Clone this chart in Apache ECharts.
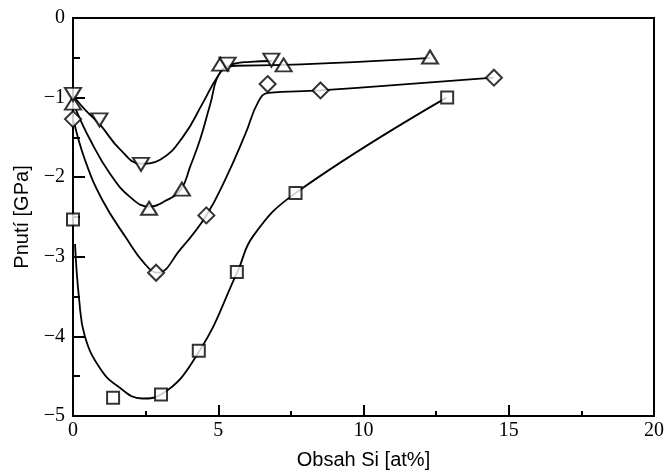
<!DOCTYPE html>
<html>
<head>
<meta charset="utf-8">
<script src="https://cdn.jsdelivr.net/npm/echarts@6/dist/echarts.min.js"></script>
<style>
  html, body { margin: 0; padding: 0; background: #fff; }
  #chart { width: 668px; height: 475px; }
</style>
</head>
<body>
<div id="chart"></div>
<script>
// measured points (x = obsah Si [at%], y = pnuti [GPa])
const squarePts = [[0, -2.53], [1.38, -4.77], [3.03, -4.73], [4.33, -4.18], [5.64, -3.19], [7.66, -2.2], [12.88, -1.0]];
const diamondPts = [[0, -1.27], [2.86, -3.2], [4.59, -2.48], [6.7, -0.83], [8.52, -0.91], [14.49, -0.75]];
const triUpPts = [[0, -1.07], [2.62, -2.39], [3.75, -2.15], [5.07, -0.58], [7.25, -0.59], [12.29, -0.49]];
const triDownPts = [[0, -0.96], [0.91, -1.28], [2.34, -1.84], [5.32, -0.58], [6.83, -0.53]];

// fitted curves
const squareCurve = [[0.07, -2.84], [0.21, -3.53], [0.41, -4.0], [0.93, -4.4], [1.52, -4.62], [2.38, -4.78], [3.03, -4.73], [4.34, -4.19], [5.66, -3.19], [6.2, -2.74], [7.66, -2.2], [12.86, -1.0]];
const diamondCurve = [[0.03, -1.3], [0.41, -1.78], [1.0, -2.28], [1.86, -2.78], [2.45, -3.08], [2.9, -3.2], [3.69, -2.91], [4.59, -2.48], [5.24, -2.03], [5.93, -1.46], [6.38, -1.05], [6.72, -0.94], [8.52, -0.91], [14.48, -0.75]];
const triUpCurve = [[0.1, -1.15], [0.59, -1.53], [1.28, -1.96], [1.97, -2.25], [2.62, -2.37], [3.17, -2.3], [3.72, -2.15], [4.03, -1.87], [4.38, -1.52], [4.72, -1.09], [5.07, -0.68], [5.59, -0.6], [7.28, -0.59], [12.31, -0.5]];
const triDownCurve = [[0.03, -0.99], [0.41, -1.15], [0.93, -1.34], [1.62, -1.65], [2.34, -1.83], [3.0, -1.78], [3.79, -1.49], [4.48, -1.06], [4.97, -0.74], [5.34, -0.6], [6.1, -0.55], [6.86, -0.54]];

const xTicks = [0, 5, 10, 15, 20];
const yTicks = [0, -1, -2, -3, -4, -5];

const chart = echarts.init(document.getElementById('chart'));

function curve(data) {
  return {
    type: 'line', data: data, smooth: 0.45, showSymbol: false, symbol: 'none',
    lineStyle: { color: '#000', width: 1.8 }, z: 2, silent: true
  };
}
function marks(data, symbol, size, rotate) {
  return {
    type: 'scatter', data: data, symbol: symbol, symbolSize: size, symbolRotate: rotate || 0,
    itemStyle: { color: '#fff', borderColor: '#000', borderWidth: 2 }, z: 5, silent: true
  };
}

const labelFont = { fontFamily: 'Liberation Serif', fontSize: 20, color: '#000' };
const nameFont = { fontFamily: 'Liberation Sans', fontSize: 20, color: '#000' };

const option = {
  backgroundColor: '#fff',
  animation: false,
  grid: {
    left: 73, right: 14, top: 18, bottom: 57,
    show: true, borderColor: '#000', borderWidth: 2
  },
  xAxis: {
    type: 'value', min: xTicks[0], max: xTicks[xTicks.length - 1], interval: 5,
    name: 'Obsah Si [at%]', nameLocation: 'middle', nameGap: 34,
    nameTextStyle: nameFont,
    axisLine: { onZero: false, lineStyle: { color: '#000', width: 2 } },
    axisTick: { inside: true, length: 11, lineStyle: { color: '#000', width: 2 } },
    minorTick: { show: true, splitNumber: 2, length: 5, lineStyle: { color: '#000', width: 2 } },
    splitLine: { show: false },
    axisLabel: Object.assign({ margin: 5, showMinLabel: true, showMaxLabel: true }, labelFont)
  },
  yAxis: {
    type: 'value', min: yTicks[yTicks.length - 1], max: yTicks[0], interval: 1,
    name: 'Pnutí [GPa]', nameLocation: 'middle', nameGap: 38,
    nameTextStyle: nameFont,
    axisLine: { onZero: false, lineStyle: { color: '#000', width: 2 } },
    axisTick: { inside: true, length: 12, lineStyle: { color: '#000', width: 2 } },
    minorTick: { show: true, splitNumber: 2, length: 7, lineStyle: { color: '#000', width: 2 } },
    splitLine: { show: false },
    axisLabel: Object.assign({
      margin: 8, showMinLabel: true, showMaxLabel: true,
      formatter: v => v < 0 ? '\u2212' + (-v) : String(v)
    }, labelFont)
  },
  series: [
    curve(squareCurve), curve(diamondCurve), curve(triUpCurve), curve(triDownCurve),
    marks(squarePts, 'rect', 12),
    marks(diamondPts, 'diamond', 16),
    marks(triUpPts, 'triangle', [16, 13]),
    marks(triDownPts, 'triangle', [16, 13], 180)
  ]
};

chart.setOption(option);
window.addEventListener('resize', () => { chart.resize(); });
</script>
</body>
</html>
